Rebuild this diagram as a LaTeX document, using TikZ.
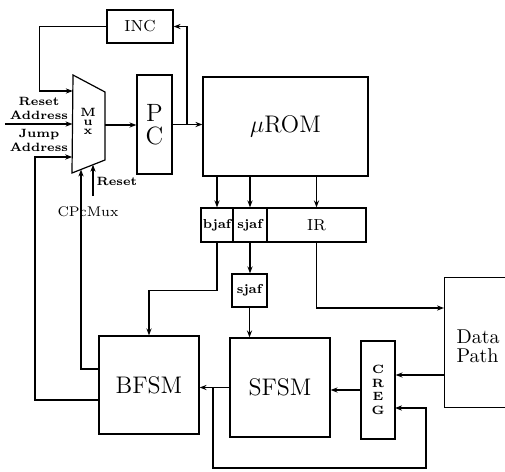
\documentclass[tikz,border=0pt]{standalone}
\usepackage{tikz}
\usetikzlibrary{arrows.meta,positioning}

\begin{document}
\begin{tikzpicture}[x=0.5pt, y=-0.5pt, line width=0.6pt,
  >={Stealth[length=3.5pt,width=2.6pt]},
  blk/.style={draw, inner sep=0pt},
  pin/.style={font=\bfseries\fontsize{6}{7}\selectfont, align=center, inner sep=0pt},
  flag/.style={blk, font=\bfseries\fontsize{6.5}{7}\selectfont}]
\useasboundingbox (0,0) rectangle (505,472);

\node[blk, minimum width=33pt, minimum height=16.5pt, font=\fontsize{8}{9}\selectfont] (inc) at (140,26.5) {INC};
\node[blk, minimum width=17.5pt, minimum height=49.5pt, align=center, font=\fontsize{12.5}{11.5}\selectfont] (pc) at (154.5,124.5) {P\\C};
\node[blk, minimum width=82.5pt, minimum height=49.5pt, font=\large] (rom) at (285.5,126.5) {$\mu$ROM};

\draw (73,75) -- (105,92) -- (105,160) -- (72,173) -- cycle;
\node[pin, font=\bfseries\fontsize{6}{4.5}\selectfont] (mux) at (88,121) {M\\u\\x};
\coordinate (muxin1) at (72.8,91);
\coordinate (muxin2) at (72.5,124);
\coordinate (muxin3) at (72.2,157);
\coordinate (muxsel) at (81,169.5);
\coordinate (muxrst) at (93,164.7);
\coordinate (muxout) at (105,125);

\node[pin] (rstaddr) at (39,108) {Reset\\Address};
\node[pin] (jmpaddr) at (39,140.5) {Jump\\Address};
\node[pin, anchor=west] (rstlbl) at (96,181) {Reset};
\node[font=\fontsize{7}{8}\selectfont, inner sep=0pt] (cpclbl) at (88,212) {CPcMux};
\coordinate (rain) at (5,124);
\coordinate (rsin) at (93,196);

\node[flag, minimum width=16pt, minimum height=17pt] (bjaf) at (217,225) {bjaf};
\node[flag, minimum width=17pt, minimum height=17pt] (sjafa) at (250,225) {sjaf};
\node[blk, minimum width=49.5pt, minimum height=17pt, font=\fontsize{8}{9}\selectfont] (ir) at (316.5,225) {IR};
\node[flag, minimum width=17.5pt, minimum height=16.5pt] (sjafb) at (249.5,290.5) {sjaf};

\node[blk, minimum width=50pt, minimum height=49pt, font=\large] (bfsm) at (149,385) {BFSM};
\node[blk, minimum width=50pt, minimum height=49.5pt, font=\large] (sfsm) at (280,387.5) {SFSM};
\node[blk, minimum width=17pt, minimum height=49pt, align=center, font=\bfseries\fontsize{6}{6.8}\selectfont] (creg) at (378,390) {C\\R\\E\\G};
\node[blk, minimum width=45pt, minimum height=65pt, anchor=north west] (dp) at (444,277) {};
\node[anchor=west, align=left, inner sep=0pt, font=\fontsize{10}{9.5}\selectfont] (dptxt) at (456,346) {Data\\Path};

\coordinate (br1) at (187,124.5);
\coordinate (br2) at (213,387.5);
\coordinate (bfa) at (99,400);
\coordinate (bfb) at (99,369);
\coordinate (dpin) at (444,308);
\coordinate (dpout) at (444,375);
\coordinate (cregin) at (395,408);

\draw[->] (rain) -- (muxin2);
\draw[->] (rsin) -- (muxrst);
\draw[->] (muxout) -- (muxout -| pc.west);
\draw[->] (pc.east) -- (pc.east -| rom.west);
\draw[->] (br1) |- (inc.east);
\draw[->] (inc.west) -- ++(-67,0) |- (muxin1);

\draw[->] (rom.south -| bjaf) -- (bjaf.north);
\draw[->] (rom.south -| sjafa) -- (sjafa.north);
\draw[->] (rom.south -| ir) -- (ir.north);

\draw[->] (bjaf.south) -- ++(0,48) -| (bfsm.north);
\draw[->] (sjafa.south) -- (sjafa.south |- sjafb.north);
\draw[->] (sjafb.south) -- (sjafb.south |- sfsm.north);
\draw[->] (ir.south) |- (dpin);

\draw[->] (dpout) -- (dpout -| creg.east);
\draw[->] (creg.west) -- (creg.west -| sfsm.east);
\draw[->] (sfsm.west) -- (sfsm.west -| bfsm.east);
\draw[->] (br2) |- (426,468) |- (cregin);

\draw[->] (bfa) -- (35,400) |- (muxin3);
\draw[->] (bfb) -| (muxsel);
\end{tikzpicture}
\end{document}
